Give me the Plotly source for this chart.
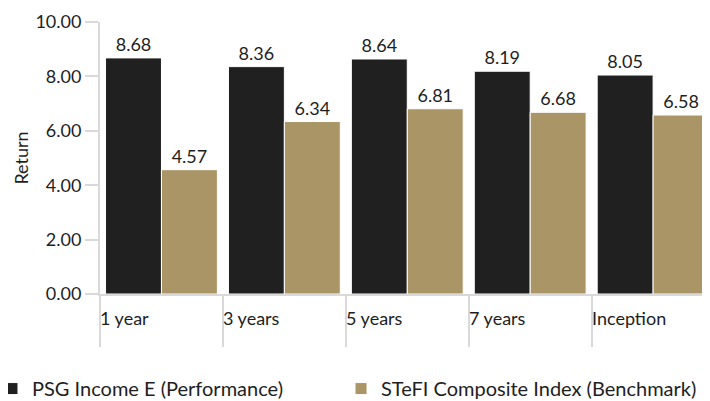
import plotly.graph_objects as go

categories = ["1 year", "3 years", "5 years", "7 years", "Inception"]
performance = [8.68, 8.36, 8.64, 8.19, 8.05]
benchmark = [4.57, 6.34, 6.81, 6.68, 6.58]
series_names = ["PSG Income E (Performance)", "STeFI Composite Index (Benchmark)"]
y_ticks = [0, 2, 4, 6, 8, 10]

FONT = "Lato"
TXT = "#1e1e1e"
AX = "#d9d9d9"
FS = 18

fig = go.Figure()
fig.add_trace(go.Bar(
    x=categories, y=performance, name=series_names[0], legend="legend",
    marker=dict(color="#202020", line=dict(color="white", width=1)),
    texttemplate="%{y:.2f}", textposition="outside", cliponaxis=False,
    textfont=dict(family=FONT, size=FS, color=TXT),
))
fig.add_trace(go.Bar(
    x=categories, y=benchmark, name=series_names[1], legend="legend2",
    marker=dict(color="#A99565", line=dict(color="white", width=1)),
    texttemplate="%{y:.2f}", textposition="outside", cliponaxis=False,
    textfont=dict(family=FONT, size=FS, color=TXT),
))

for c in categories:
    fig.add_annotation(
        x=c, xref="x", y=0, yref="y", text=c, showarrow=False,
        xanchor="left", yanchor="middle", xshift=-63, yshift=-24,
        font=dict(family=FONT, size=FS, color=TXT),
    )

legend_common = dict(
    orientation="h", xanchor="left", y=-0.276, yanchor="top",
    font=dict(family=FONT, size=20, color=TXT),
    itemclick=False, itemdoubleclick=False, bgcolor="rgba(0,0,0,0)",
)

fig.update_layout(
    width=710, height=401,
    margin=dict(l=92, r=0, t=14, b=115, autoexpand=False),
    paper_bgcolor="white", plot_bgcolor="white",
    barmode="group", bargap=0.09, bargroupgap=0.0,
    font=dict(family=FONT, size=FS, color=TXT),
    showlegend=True,
    legend=dict(x=-0.1748, **legend_common),
    legend2=dict(x=0.3900, **legend_common),
    xaxis=dict(
        range=[-0.5, 4.528], showgrid=False, showline=True, linecolor=AX, linewidth=2,
        ticks="outside", tickson="boundaries", ticklen=51, tickcolor=AX, tickwidth=2,
        showticklabels=False, fixedrange=True,
    ),
    yaxis=dict(
        range=[0, 10], tickvals=y_ticks, tickformat=".2f", showgrid=False,
        showline=True, linecolor=AX, linewidth=2, zeroline=False,
        ticks="outside", ticklen=13, tickcolor=AX, tickwidth=2,
        title=dict(text="Return", standoff=2, font=dict(family=FONT, size=FS, color=TXT)),
        tickfont=dict(family=FONT, size=FS, color=TXT), fixedrange=True,
    ),
)

fig.write_html("out.html")
